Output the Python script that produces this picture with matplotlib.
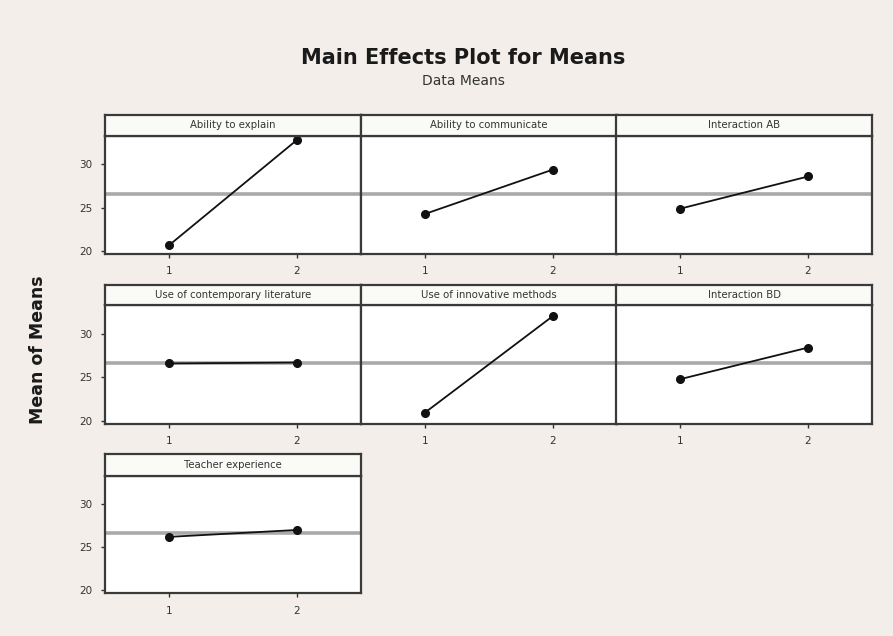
import matplotlib
matplotlib.use("Agg")
import matplotlib.pyplot as plt

factors = ["Ability to explain", "Ability to communicate", "Interaction AB",
           "Use of contemporary literature", "Use of innovative methods",
           "Interaction BD", "Teacher experience"]
levels = [1, 2]
level1_means = [20.7, 24.3, 24.9, 26.6, 21.0, 24.8, 26.2]
level2_means = [32.8, 29.4, 28.6, 26.7, 32.0, 28.4, 27.0]
grand_mean = 26.6
y_ticks = [20, 25, 30]

W, H = 893, 636
fig = plt.figure(figsize=(W / 100, H / 100), dpi=100)
fig.patch.set_facecolor("#F3EEE9")

col_left = [105, 361, 616]
col_w = 256
rows = [(115, 136, 254), (285, 305, 424), (454, 476, 593)]  # strip top, axes top, axes bottom

def fx(px):
    return px / W

def fy(py):
    return 1 - py / H

for i, name in enumerate(factors):
    r, c = divmod(i, 3)
    st, at, ab = rows[r]
    x0 = col_left[c]
    ax = fig.add_axes([fx(x0), fy(ab), col_w / W, (ab - at) / H])
    ax.set_facecolor("white")
    ax.axhline(grand_mean, color="#A9A9A9", lw=2.6, zorder=1)
    ax.plot(levels, [level1_means[i], level2_means[i]], color="#111111", lw=1.3,
            marker="o", ms=5.5, zorder=3)
    ax.set_xlim(0.5, 2.5)
    ax.set_ylim(19.7, 33.25)
    ax.set_xticks(levels)
    ax.set_xticklabels([str(v) for v in levels], fontsize=7.5, color="#333333")
    ax.set_yticks(y_ticks)
    ax.tick_params(axis="both", direction="out", length=3, width=1, colors="#333333", pad=6)
    if c == 0:
        ax.set_yticklabels([str(v) for v in y_ticks], fontsize=7.5, color="#333333")
    else:
        ax.set_yticklabels([])
        ax.tick_params(axis="y", length=0)
    for s in ax.spines.values():
        s.set_linewidth(1.6)
        s.set_color("#3a3a3a")
    # strip
    sax = fig.add_axes([fx(x0), fy(at), col_w / W, (at - st) / H])
    sax.set_facecolor("#FAFAF7")
    sax.set_xticks([])
    sax.set_yticks([])
    for s in sax.spines.values():
        s.set_linewidth(1.6)
        s.set_color("#3a3a3a")
    sax.text(0.5, 0.5, name, ha="center", va="center", fontsize=7.3,
             color="#333333", transform=sax.transAxes)

fig.text(fx(463), fy(58), "Main Effects Plot for Means", ha="center", va="center",
         fontsize=15, fontweight="bold", color="#1a1a1a")
fig.text(fx(463), fy(81), "Data Means", ha="center", va="center",
         fontsize=10, color="#333333")
fig.text(fx(38), fy(350), "Mean of Means", ha="center", va="center", rotation=90,
         fontsize=12.5, fontweight="bold", color="#1a1a1a")

fig.savefig("out.png", dpi=100, facecolor=fig.get_facecolor())
